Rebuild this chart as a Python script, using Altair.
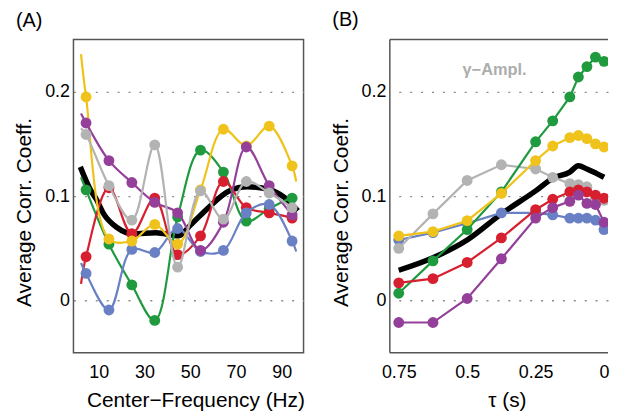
import altair as alt
import pandas as pd

FONT = "Liberation Sans"

# ---------------- data ----------------
freq = [4.5, 14.5, 24.5, 34.5, 44.5, 54.5, 64.5, 74.5, 84.5, 94.5]
freq_start = 2.3
freq_end = 96.3

A_vals = {
    "yellow": [0.195, 0.059, 0.057, 0.073, 0.054, 0.106, 0.164, 0.148, 0.167, 0.129],
    "purple": [0.170, 0.134, 0.113, 0.094, 0.084, 0.048, 0.075, 0.147, 0.110, 0.082],
    "gray":   [0.159, 0.110, 0.077, 0.149, 0.032, 0.105, 0.078, 0.114, 0.103, 0.089],
    "green":  [0.106, 0.054, 0.015, -0.019, 0.080, 0.144, 0.123, 0.076, 0.088, 0.098],
    "red":    [0.042, 0.108, 0.064, 0.098, 0.044, 0.062, 0.114, 0.089, 0.084, 0.079],
    "blue":   [0.026, -0.009, 0.049, 0.046, 0.069, 0.047, 0.048, 0.084, 0.092, 0.057],
}
A_start = {"yellow": 0.236, "purple": 0.179, "gray": 0.165, "green": 0.118, "red": 0.016, "blue": 0.036}
A_end = {"yellow": 0.114, "purple": 0.077, "gray": 0.086, "green": 0.097, "red": 0.077, "blue": 0.047}

black_A_x = [2, 6.4, 9, 12.2, 18, 25, 35, 45, 50, 57, 67, 75, 85, 91, 97]
black_A_y = [0.128, 0.106, 0.097, 0.083, 0.070, 0.064, 0.065, 0.062, 0.072, 0.087, 0.105, 0.109, 0.106, 0.099, 0.086]

tau = [0.75, 0.625, 0.5, 0.375, 0.25, 0.1875, 0.125, 0.09375, 0.0625, 0.03125, 0.0]
B_vals = {
    "green":  [0.007, 0.038, 0.068, 0.104, 0.152, 0.172, 0.195, 0.214, 0.224, 0.233, 0.229],
    "yellow": [0.062, 0.066, 0.0765, 0.1026, 0.134, 0.148, 0.156, 0.158, 0.155, 0.150, 0.147],
    "gray":   [0.050, 0.083, 0.115, 0.130, 0.126, 0.118, 0.112, 0.111, 0.109, 0.098, 0.096],
    "red":    [0.017, 0.021, 0.0365, 0.060, 0.087, 0.097, 0.104, 0.106, 0.104, 0.101, 0.098],
    "purple": [-0.021, -0.021, 0.002, 0.040, 0.079, 0.089, 0.095, 0.101, 0.093, 0.092, 0.075],
    "blue":   [0.058, 0.065, 0.074, 0.084, 0.084, 0.082, 0.079, 0.079, 0.079, 0.077, 0.068],
}
black_B_tau = [0.75, 0.625, 0.5, 0.375, 0.25, 0.1875, 0.125, 0.094, 0.0625, 0.03, 0.0]
black_B_y = [0.029, 0.041, 0.058, 0.083, 0.105, 0.117, 0.123, 0.129, 0.126, 0.122, 0.118]

label_B = pd.DataFrame({"tau": [0.40], "v": [0.221], "t": ["γ−Ampl."]})

colors = {
    "yellow": "#EFC31B",
    "purple": "#94409A",
    "gray": "#B3B3B3",
    "green": "#1F9A3E",
    "red": "#D7202F",
    "blue": "#6A80C5",
}
order_A = ["green", "red", "blue", "yellow", "purple", "gray"]
order_B = ["blue", "gray", "green", "yellow", "red", "purple"]

W_A, W_B, H = 232, 220, 316
FRAME = "#555555"

# ---------------- scales / axes ----------------
y_scale = alt.Scale(domain=[-0.05, 0.25], nice=False, zero=False)
y_axis = alt.Axis(values=[0, 0.1, 0.2], labelExpr="'' + datum.value",
                  title="Average Corr. Coeff.", grid=True, gridDash=[2, 9],
                  gridColor="#8a8a8a", gridWidth=1.3, titlePadding=10, titleY=174)

xA = alt.X("x:Q", scale=alt.Scale(domain=[-1, 99.5], nice=False, zero=False),
           axis=alt.Axis(values=[10, 30, 50, 70, 90], title="Center−Frequency (Hz)",
                         grid=False, labelPadding=11, titlePadding=8, titleX=123))
yA = alt.Y("y:Q", scale=y_scale, axis=y_axis)

xB_scale = alt.Scale(domain=[-0.0145, 0.7826], reverse=True, nice=False, zero=False)
xB = alt.X("x:Q", scale=xB_scale,
           axis=alt.Axis(values=[0.75, 0.5, 0.25, 0], labelExpr="'' + datum.value",
                         title="τ (s)", grid=False, labelPadding=11, titlePadding=8, titleX=118))
yB = alt.Y("y:Q", scale=y_scale, axis=y_axis)

# ---------------- panel A ----------------
layers_A = [
    alt.Chart(pd.DataFrame({"x": black_A_x, "y": black_A_y}))
    .mark_line(color="black", strokeWidth=5.5, interpolate="monotone")
    .encode(x=xA, y=yA)
]
for name in order_A:
    line_df = pd.DataFrame({"x": [freq_start] + freq + [freq_end],
                            "y": [A_start[name]] + A_vals[name] + [A_end[name]]})
    pt_df = pd.DataFrame({"x": freq, "y": A_vals[name]})
    layers_A.append(alt.Chart(line_df).mark_line(color=colors[name], strokeWidth=2.2,
                                                 interpolate="catmull-rom").encode(x=xA, y=yA))
    layers_A.append(alt.Chart(pt_df).mark_circle(color=colors[name], size=120, opacity=1)
                    .encode(x=xA, y=yA))

panel_A = alt.layer(*layers_A).properties(
    width=W_A, height=H,
    title=alt.TitleParams("(A)", anchor="start", frame="bounds", fontSize=20, font=FONT,
                          fontWeight="normal", offset=9, dx=2),
)

# ---------------- panel B ----------------
layers_B = [
    alt.Chart(pd.DataFrame({"x": black_B_tau, "y": black_B_y}))
    .mark_line(color="black", strokeWidth=5.5, interpolate="monotone", clip=True)
    .encode(x=xB, y=yB)
]
for name in order_B:
    df = pd.DataFrame({"x": tau, "y": B_vals[name]})
    layers_B.append(alt.Chart(df).mark_line(color=colors[name], strokeWidth=2.2, clip=True)
                    .encode(x=xB, y=yB))
    layers_B.append(alt.Chart(df).mark_circle(color=colors[name], size=120, opacity=1, clip=True)
                    .encode(x=xB, y=yB))
layers_B.append(
    alt.Chart(label_B).mark_text(font=FONT, fontSize=16.5, fontWeight="bold", color="#ADADAD")
    .encode(x=alt.X("tau:Q", scale=xB_scale), y=alt.Y("v:Q", scale=y_scale), text="t:N")
)
# frame of panel B: left, top, bottom (the right side is cut off in the original)
frame_df = pd.DataFrame({"k": [0]})
layers_B.append(alt.Chart(frame_df).mark_rule(color=FRAME, strokeWidth=1.5)
                .encode(x=alt.value(0), y=alt.value(0), y2=alt.value(H)))
layers_B.append(alt.Chart(frame_df).mark_rule(color=FRAME, strokeWidth=1.5)
                .encode(x=alt.value(0), x2=alt.value(W_B), y=alt.value(0)))
layers_B.append(alt.Chart(frame_df).mark_rule(color=FRAME, strokeWidth=1.5)
                .encode(x=alt.value(0), x2=alt.value(W_B), y=alt.value(H)))

panel_B = alt.layer(*layers_B).properties(
    width=W_B, height=H,
    view=alt.ViewBackground(strokeOpacity=0),
    title=alt.TitleParams("(B)", anchor="start", frame="bounds", fontSize=20, font=FONT,
                          fontWeight="normal", offset=9, dx=2),
)

chart = (
    alt.hconcat(panel_A, panel_B, spacing=20)
    .properties(padding={"left": 5, "top": 0, "right": 0, "bottom": 0})
    .configure_view(stroke=FRAME, strokeWidth=1.5)
    .configure_axis(labelFont=FONT, labelFontSize=18, titleFont=FONT, titleFontSize=21,
                    titleFontWeight="normal", labelColor="black", titleColor="black",
                    ticks=False, domain=False)
    .configure_axisY(labelPadding=4)
)

chart.save("out.html", embed_options={"renderer": "svg", "actions": False})
